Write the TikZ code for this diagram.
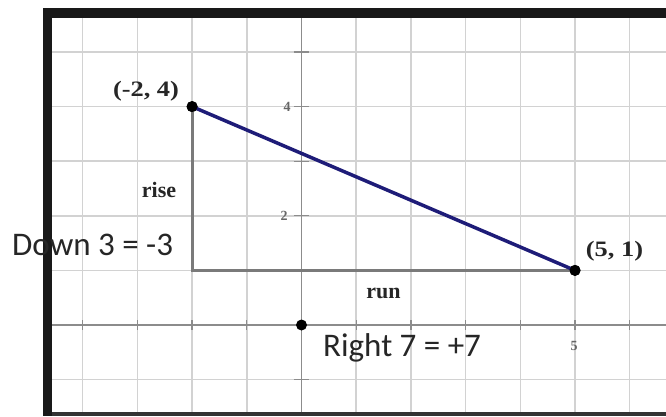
\documentclass[tikz,border=0pt]{standalone}
\usepackage{fontspec}
\setmainfont{Liberation Serif}
\newfontfamily\calib{Carlito}
\definecolor{gridc}{HTML}{D2D2D2}
\definecolor{axisc}{HTML}{8C8C8C}
\definecolor{legc}{HTML}{7A7A7A}
\definecolor{navyc}{HTML}{1E1C78}
\definecolor{txtc}{HTML}{262626}
\tikzset{
  gridline/.style={draw=gridc, line width=1.5pt},
  axisline/.style={draw=axisc, line width=1.8pt},
  tickmark/.style={draw=axisc, line width=1.3pt},
  legline/.style={draw=legc, line width=3pt},
  slopeline/.style={draw=navyc, line width=3.5pt, line cap=round},
  dot/.style={circle, fill=black, inner sep=0pt, minimum size=11pt},
  ptlabel/.style={font=\fontsize{22}{26}\selectfont\bfseries, text=txtc, inner sep=0pt, anchor=base},
  coordlabel/.style={ptlabel, xscale=1.2},
  sidenote/.style={font=\calib\fontsize{33}{38}\selectfont, text=txtc, inner sep=0pt, anchor=base west},
  ticklabel/.style={font=\fontsize{14}{15}\selectfont\bfseries, text=black!60, inner sep=0pt}
}
\begin{document}
\begin{tikzpicture}[x=1pt, y=-1pt]
\useasboundingbox (0,0) rectangle (666,416);
\fill[white] (0,0) rectangle (666,416);
% grid, clipped to frame interior
\begin{scope}
  \clip (52,18) rectangle (666,411.5);
  \begin{scope}[shift={(301.5,325)}, x=54.7pt, y=54.6pt]
    \foreach \u in {-5,...,7} \draw[gridline] (\u,-2) -- (\u,6);
    \foreach \v in {-2,...,6} \draw[gridline] (-6,\v) -- (7,\v);
    \draw[axisline] (-6,0) -- (7,0);
    \draw[axisline] (0,-2) -- (0,6);
    \foreach \u in {-4,...,6} \draw[tickmark] (\u,-0.09) -- (\u,0.09);
    \foreach \v in {-1,...,5} \draw[tickmark] (-0.14,\v) -- (0.14,\v);
  \end{scope}
\end{scope}
% frame
\fill[black!90] (43,8) rectangle (666,18);
\fill[black!90] (43,8) rectangle (52,416);
\fill[black!80] (52,411.5) rectangle (666,416);
% tick labels
\node[ticklabel] (t4) at (287,107) {4};
\node[ticklabel] (t2) at (284,216) {2};
\node[ticklabel] (t5) at (574,346) {5};
% plot
\begin{scope}[shift={(301.5,325)}, x=54.7pt, y=54.6pt]
  \node[dot] (A) at (-2,4) {};
  \node[dot] (B) at (5,1) {};
  \node[dot] (O) at (0,0) {};
  \coordinate (C) at (-2,1);
  \draw[legline] (A.center) -- (C) -- (B.center);
  \draw[slopeline] (A.center) -- (B.center);
  \node[dot] at (A.center) {};
  \node[dot] at (B.center) {};
\end{scope}
% labels
\node[coordlabel] (LA) at (146,96) {(-2, 4)};
\node[coordlabel] (LB) at (614.5,256) {(5, 1)};
\node[ptlabel] (rise) at (159,197) {rise};
\node[ptlabel] (run) at (383.5,298) {run};
\node[sidenote] (down) at (12,255) {Down 3 = -3};
\node[sidenote] (right) at (323,356) {Right 7 = +7};
\end{tikzpicture}
\end{document}
